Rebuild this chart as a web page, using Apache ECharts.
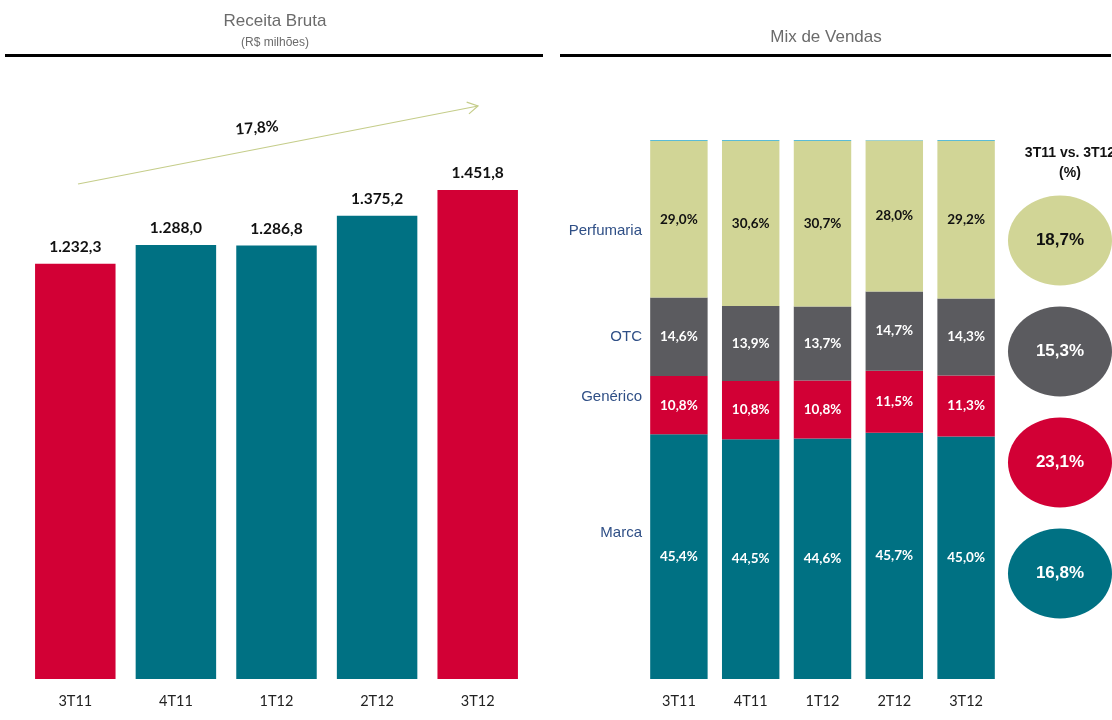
<!DOCTYPE html>
<html>
<head>
<meta charset="utf-8">
<script src="https://cdn.jsdelivr.net/npm/echarts@6/dist/echarts.min.js"></script>
<style>
  html, body { margin: 0; padding: 0; background: #fff; }
  #main { width: 1112px; height: 720px; }
</style>
</head>
<body>
<div id="main"></div>
<script>
var quarters = ['3T11', '4T11', '1T12', '2T12', '3T12'];
var receita = [1232.3, 1288.0, 1286.8, 1375.2, 1451.8];
var receitaGrowth = '17,8%';

var marca = [45.4, 44.5, 44.6, 45.7, 45.0];
var generico = [10.8, 10.8, 10.8, 11.5, 11.3];
var otc = [14.6, 13.9, 13.7, 14.7, 14.3];
var perfumaria = [29.0, 30.6, 30.7, 28.0, 29.2];
var outros = [0.2, 0.2, 0.2, 0.1, 0.2];

var segments = ['Perfumaria', 'OTC', 'Genérico', 'Marca'];
var segGrowth = [18.7, 15.3, 23.1, 16.8];

var RED = '#d20035', TEAL = '#007183', OLIVE = '#d1d596', GRAY = '#5b5b5f';
var segColors = [OLIVE, GRAY, RED, TEAL];

function br(v, d) {
  var s = v.toFixed(d).split('.');
  var i = s[0].replace(/\B(?=(\d{3})+(?!\d))/g, '.');
  return i + ',' + s[1];
}

var chart = echarts.init(document.getElementById('main'));

// arrow head for the growth arrow
var a0 = [78, 184], a1 = [478, 106];
var dx = a1[0] - a0[0], dy = a1[1] - a0[1], L = Math.sqrt(dx * dx + dy * dy);
var ux = -dx / L, uy = -dy / L, hl = 12, c = Math.cos(Math.PI / 6), s = Math.sin(Math.PI / 6);
var h1 = [a1[0] + hl * (ux * c - uy * s), a1[1] + hl * (ux * s + uy * c)];
var h2 = [a1[0] + hl * (ux * c + uy * s), a1[1] + hl * (-ux * s + uy * c)];

var stackLabel = function (dark) {
  return {
    show: true, position: 'inside', fontFamily: 'Lato', fontWeight: 'bold', fontSize: 13.5,
    color: dark ? '#111' : '#fff',
    formatter: function (p) { return br(p.value, 1) + '%'; }
  };
};

var sideLabel = function (txt, y) {
  return { type: 'text', x: 642, y: y, style: { text: txt, align: 'right', verticalAlign: 'middle',
    fontFamily: 'Liberation Sans', fontSize: 15, fill: '#2f4f86' } };
};

chart.setOption({
  animation: false,
  title: [
    { text: 'Receita Bruta', subtext: '(R$ milhões)', left: 270, top: 8, textAlign: 'center',
      itemGap: 7,
      textStyle: { fontFamily: 'Liberation Sans', fontWeight: 'normal', fontSize: 17, color: '#6b6b6b' },
      subtextStyle: { fontFamily: 'Liberation Sans', fontSize: 12, color: '#6b6b6b' } },
    { text: 'Mix de Vendas', left: 821, top: 24, textAlign: 'center',
      textStyle: { fontFamily: 'Liberation Sans', fontWeight: 'normal', fontSize: 17, color: '#6b6b6b' } },
    { text: '3T11 vs. 3T12\n(%)', left: 1065, top: 138, textAlign: 'center',
      textStyle: { fontFamily: 'Liberation Sans', fontWeight: 'bold', fontSize: 14, color: '#111', lineHeight: 20 } }
  ],
  grid: [
    { left: 25, width: 503, top: 140, height: 539 },
    { left: 643, width: 359, top: 140, height: 539 },
    { left: 1008, width: 104, top: 185, height: 444 }
  ],
  xAxis: [
    { type: 'category', gridIndex: 0, data: quarters, axisLine: { show: false }, axisTick: { show: false },
      axisLabel: { margin: 15, fontFamily: 'Lato', fontSize: 14.5, color: '#222' } },
    { type: 'category', gridIndex: 1, data: quarters, axisLine: { show: false }, axisTick: { show: false },
      axisLabel: { margin: 15, fontFamily: 'Lato', fontSize: 14.5, color: '#222' } },
    { type: 'value', gridIndex: 2, min: 0, max: 2, show: false }
  ],
  yAxis: [
    { type: 'value', gridIndex: 0, min: 0, max: 1600, show: false },
    { type: 'value', gridIndex: 1, min: 0, max: 100, show: false },
    { type: 'category', gridIndex: 2, data: segments, inverse: true, show: false }
  ],
  series: [
    { type: 'bar', xAxisIndex: 0, yAxisIndex: 0, barCategoryGap: '20%',
      data: receita.map(function (v, i) {
        return { value: v, itemStyle: { color: (i === 0 || i === 4) ? RED : TEAL } };
      }),
      label: { show: true, position: 'top', distance: 9, fontFamily: 'Lato', fontWeight: 'bold',
        fontSize: 15.5, color: '#111', formatter: function (p) { return br(p.value, 1); } } },
    { name: 'Marca', type: 'bar', stack: 'mix', xAxisIndex: 1, yAxisIndex: 1, barCategoryGap: '20%',
      data: marca, itemStyle: { color: TEAL }, label: stackLabel(false) },
    { name: 'Genérico', type: 'bar', stack: 'mix', xAxisIndex: 1, yAxisIndex: 1,
      data: generico, itemStyle: { color: RED }, label: stackLabel(false) },
    { name: 'OTC', type: 'bar', stack: 'mix', xAxisIndex: 1, yAxisIndex: 1,
      data: otc, itemStyle: { color: GRAY }, label: stackLabel(false) },
    { name: 'Perfumaria', type: 'bar', stack: 'mix', xAxisIndex: 1, yAxisIndex: 1,
      data: perfumaria, itemStyle: { color: OLIVE }, label: stackLabel(true) },
    { name: 'Outros', type: 'bar', stack: 'mix', xAxisIndex: 1, yAxisIndex: 1,
      data: outros, itemStyle: { color: '#5bbcd6' } },
    { type: 'scatter', xAxisIndex: 2, yAxisIndex: 2, symbol: 'circle', symbolSize: [104, 90],
      itemStyle: { opacity: 1 },
      data: segGrowth.map(function (v, i) {
        return { value: [1, segments[i], v], itemStyle: { color: segColors[i], opacity: 1 },
          label: { color: i === 0 ? '#111' : '#fff' } };
      }),
      label: { show: true, position: 'inside', fontFamily: 'Liberation Sans', fontWeight: 'bold', fontSize: 17,
        formatter: function (p) { return br(p.value[2], 1) + '%'; } } }
  ],
  graphic: [
    { type: 'rect', shape: { x: 5, y: 54, width: 538, height: 3 }, style: { fill: '#000' } },
    { type: 'rect', shape: { x: 560, y: 54, width: 551, height: 3 }, style: { fill: '#000' } },
    { type: 'line', shape: { x1: a0[0], y1: a0[1], x2: a1[0], y2: a1[1] },
      style: { stroke: '#c5cd8a', lineWidth: 1.2 } },
    { type: 'polyline', shape: { points: [h1, a1, h2] }, style: { stroke: '#c5cd8a', lineWidth: 1.2, fill: null } },
    { type: 'text', x: 257, y: 128, rotation: 0.08,
      style: { text: receitaGrowth, align: 'center', verticalAlign: 'middle', fontFamily: 'Lato',
        fontWeight: 'bold', fontSize: 15.5, fill: '#111' } },
    sideLabel('Perfumaria', 231),
    sideLabel('OTC', 337),
    sideLabel('Genérico', 397),
    sideLabel('Marca', 533)
  ]
});
</script>
</body>
</html>
